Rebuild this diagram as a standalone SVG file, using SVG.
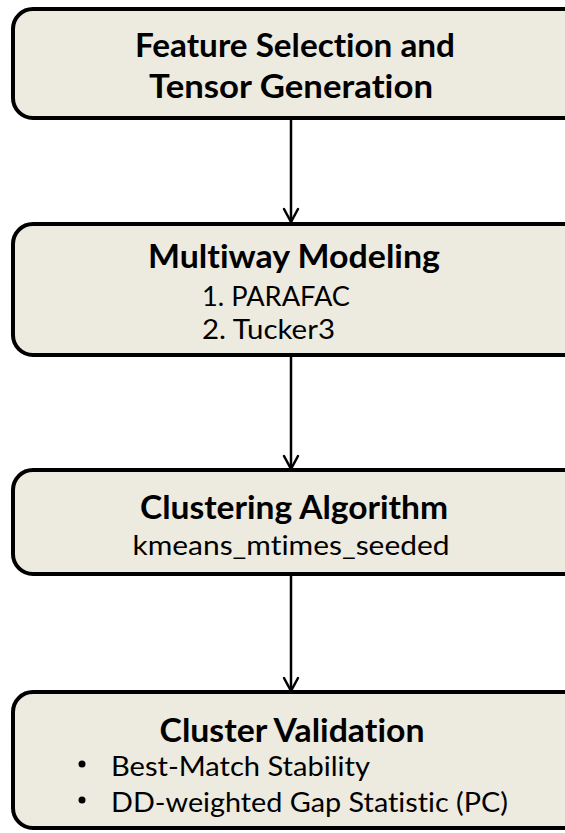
<svg xmlns="http://www.w3.org/2000/svg" width="565" height="833" viewBox="0 0 565 833">
  <style>
    .box { fill: #edeae0; stroke: #000; stroke-width: 4; }
    text { font-variant-ligatures: none; font-feature-settings: "liga" 0, "clig" 0; }
    .title { font-family: Lato, "Open Sans", sans-serif; font-weight: bold; font-size: 32px; fill: #000; }
    .body { font-family: Lato, "Open Sans", sans-serif; font-size: 27px; fill: #000; }
    .edge { stroke: #000; stroke-width: 2.5; fill: none; }
    .head { stroke: #000; stroke-width: 2.5; fill: none; stroke-linecap: round; stroke-linejoin: round; }
  </style>

  <g id="connectors">
    <line class="edge" x1="291" y1="119" x2="291" y2="222"/>
    <path class="head" d="M284 209 L291 222 L298 209"/>
    <line class="edge" x1="291" y1="355" x2="291" y2="469"/>
    <path class="head" d="M284 456 L291 469 L298 456"/>
    <line class="edge" x1="291" y1="574" x2="291" y2="691"/>
    <path class="head" d="M284 678 L291 691 L298 678"/>
  </g>

  <g id="feature-selection">
    <rect class="box" x="13" y="9" width="570" height="109" rx="20"/>
    <text class="title" x="295" y="57" text-anchor="middle" textLength="320" lengthAdjust="spacingAndGlyphs">Feature Selection and</text>
    <text class="title" x="291" y="98" text-anchor="middle" textLength="284" lengthAdjust="spacingAndGlyphs">Tensor Generation</text>
  </g>

  <g id="multiway-modeling">
    <rect class="box" x="13" y="224" width="570" height="131" rx="20"/>
    <text class="title" x="294" y="268" text-anchor="middle" textLength="292" lengthAdjust="spacingAndGlyphs">Multiway Modeling</text>
    <text class="body" x="202" y="306" textLength="148" lengthAdjust="spacingAndGlyphs">1. PARAFAC</text>
    <text class="body" x="202" y="339" textLength="133" lengthAdjust="spacingAndGlyphs">2. Tucker3</text>
  </g>

  <g id="clustering-algorithm">
    <rect class="box" x="13" y="470" width="570" height="104" rx="20"/>
    <text class="title" x="294" y="519" text-anchor="middle" textLength="308" lengthAdjust="spacingAndGlyphs">Clustering Algorithm</text>
    <text class="body" x="291" y="555" text-anchor="middle" textLength="317" lengthAdjust="spacingAndGlyphs">kmeans_mtimes_seeded</text>
  </g>

  <g id="cluster-validation">
    <rect class="box" x="13" y="692" width="570" height="136" rx="20"/>
    <text class="title" x="292" y="742" text-anchor="middle" textLength="265" lengthAdjust="spacingAndGlyphs">Cluster Validation</text>
    <circle cx="82" cy="764" r="3.5" fill="#000"/>
    <text class="body" x="111" y="776" textLength="259" lengthAdjust="spacingAndGlyphs">Best-Match Stability</text>
    <circle cx="82" cy="800" r="3.5" fill="#000"/>
    <text class="body" x="111" y="812" textLength="397" lengthAdjust="spacingAndGlyphs">DD-weighted Gap Statistic (PC)</text>
  </g>
</svg>
